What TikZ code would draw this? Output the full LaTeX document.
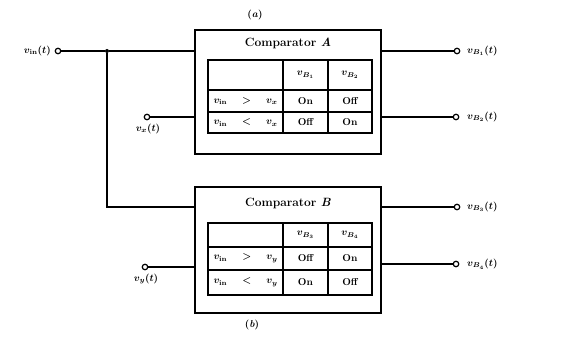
\documentclass[tikz,border=0pt]{standalone}
\begin{document}
\begin{tikzpicture}[x=1pt,y=-1pt,
 blk/.style={draw, line width=1.6pt, minimum width=186pt, minimum height=124pt, inner sep=0},
 cell/.style={draw, line width=1.5pt, inner sep=0, font=\bfseries\boldmath},
 term/.style={circle, draw, line width=1.2pt, inner sep=0, minimum size=5.5pt, fill=white},
 wire/.style={line width=1.4pt},
 lbl/.style={font=\bfseries\boldmath, inner sep=1pt},
 dotj/.style={circle, fill, inner sep=0, minimum size=4pt}]
\useasboundingbox (0,0) rectangle (576,339);

% blocks
\node[blk] (A) at (288,92) {};
\node[blk, minimum height=126pt] (B) at (288,250) {};
\node[font=\bfseries\large] (ta) at (288,43) {Comparator \textit{A}};
\node[font=\bfseries\large] (tb) at (288,203) {Comparator \textit{B}};
\node[font=\bfseries] (capa) at (255,15) {(\textit{a})};
\node[font=\bfseries] (capb) at (252,325) {(\textit{b})};

% table A
\node[cell, minimum width=75pt, minimum height=30pt] (a11) at (245.5,75) {};
\node[cell, minimum width=45pt, minimum height=30pt] (a12) at (305.5,75) {$v_{B_1}$};
\node[cell, minimum width=44pt, minimum height=30pt] (a13) at (350,75) {$v_{B_2}$};
\node[cell, minimum width=75pt, minimum height=22pt] (a21) at (245.5,101) {\makebox[64pt]{$v_{\mathrm{in}}$\hfill$>$\hfill$v_x$}};
\node[cell, minimum width=45pt, minimum height=22pt] (a22) at (305.5,101) {On};
\node[cell, minimum width=44pt, minimum height=22pt] (a23) at (350,101) {Off};
\node[cell, minimum width=75pt, minimum height=21pt] (a31) at (245.5,122.5) {\makebox[64pt]{$v_{\mathrm{in}}$\hfill$<$\hfill$v_x$}};
\node[cell, minimum width=45pt, minimum height=21pt] (a32) at (305.5,122.5) {Off};
\node[cell, minimum width=44pt, minimum height=21pt] (a33) at (350,122.5) {On};

% table B
\node[cell, minimum width=75pt, minimum height=24pt] (b11) at (245.5,235) {};
\node[cell, minimum width=45pt, minimum height=24pt] (b12) at (305.5,235) {$v_{B_3}$};
\node[cell, minimum width=44pt, minimum height=24pt] (b13) at (350,235) {$v_{B_4}$};
\node[cell, minimum width=75pt, minimum height=23pt] (b21) at (245.5,258.5) {\makebox[64pt]{$v_{\mathrm{in}}$\hfill$>$\hfill$v_y$}};
\node[cell, minimum width=45pt, minimum height=23pt] (b22) at (305.5,258.5) {Off};
\node[cell, minimum width=44pt, minimum height=23pt] (b23) at (350,258.5) {On};
\node[cell, minimum width=75pt, minimum height=25pt] (b31) at (245.5,282.5) {\makebox[64pt]{$v_{\mathrm{in}}$\hfill$<$\hfill$v_y$}};
\node[cell, minimum width=45pt, minimum height=25pt] (b32) at (305.5,282.5) {On};
\node[cell, minimum width=44pt, minimum height=25pt] (b33) at (350,282.5) {Off};

% inputs
\coordinate (ain) at (195,51);
\coordinate (bin) at (195,207);
\coordinate (ax) at (195,117);
\coordinate (by) at (195,267);
\node[dotj] (j) at (107,51) {};
\node[term] (vin) at (58,51) {};
\node[term] (vx) at (147,117) {};
\node[term] (vy) at (145,267) {};
\draw[wire] (vin) -- (j) -- (ain);
\draw[wire] (j) |- (bin);
\draw[wire] (vx) -- (ax);
\draw[wire] (vy) -- (by);
\node[lbl, anchor=east] (lvin) at (52,51) {$v_{\mathrm{in}}(t)$};
\node[lbl] (lvx) at (148,129) {$v_x(t)$};
\node[lbl] (lvy) at (146,279) {$v_y(t)$};

% outputs
\node[term] (o1) at (457,51) {};
\node[term] (o2) at (456,117) {};
\node[term] (o3) at (457,207) {};
\node[term] (o4) at (456,264) {};
\draw[wire] (381,51) -- (o1);
\draw[wire] (381,117) -- (o2);
\draw[wire] (381,207) -- (o3);
\draw[wire] (381,264) -- (o4);
\node[lbl, anchor=west] (l1) at (466,51) {$v_{B_1}(t)$};
\node[lbl, anchor=west] (l2) at (466,117) {$v_{B_2}(t)$};
\node[lbl, anchor=west] (l3) at (466,207) {$v_{B_3}(t)$};
\node[lbl, anchor=west] (l4) at (466,264) {$v_{B_4}(t)$};
\end{tikzpicture}
\end{document}
